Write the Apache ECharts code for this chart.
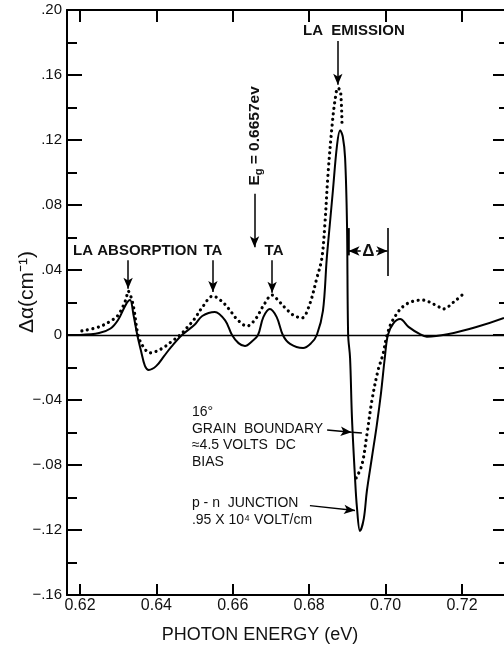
<!DOCTYPE html>
<html><head><meta charset="utf-8">
<script src="https://cdn.jsdelivr.net/npm/echarts@6/dist/echarts.min.js"></script>
<style>html,body{margin:0;padding:0;background:#fff}#c{width:504px;height:650px}</style>
</head><body><div id="c"></div>
<script>
// ---- data ----
const solidX = [0.620,0.625,0.628,0.630,0.632,0.6331,0.634,0.635,0.636,0.637,0.638,0.640,0.642,0.644,0.6467,0.650,0.652,0.6553,0.658,0.6598,0.6615,0.6632,0.665,0.6666,0.668,0.6697,0.6715,0.6731,0.675,0.6784,0.6805,0.682,0.6836,0.6846,0.6854,0.6862,0.6873,0.6881,0.6888,0.6894,0.6899,0.6902,0.6907,0.6912,0.6920,0.6925,0.6933,0.6943,0.6951,0.6964,0.6977,0.6988,0.6998,0.7006,0.702,0.7038,0.706,0.709,0.7108,0.731];
const solidY = [0,0.0012,0.004,0.0094,0.0187,0.0215,0.0125,0,-0.01,-0.019,-0.0215,-0.019,-0.013,-0.007,0,0.0063,0.0117,0.0142,0.009,0,-0.005,-0.0068,-0.004,0,0.011,0.016,0.011,0,-0.0055,-0.008,-0.005,0,0.0148,0.047,0.068,0.0886,0.117,0.126,0.122,0.109,0.068,0,-0.014,-0.051,-0.088,-0.106,-0.1206,-0.113,-0.096,-0.0757,-0.0554,-0.0357,-0.014,0,0.007,0.0098,0.005,0.0005,-0.001,0.0105];
// dotted curve: hidden under the solid line between 0.689 and 0.692 (gap = null)
const dottedX = [0.6205,0.625,0.628,0.630,0.632,0.6326,0.6339,0.6352,0.6365,0.6383,0.640,0.642,0.644,0.6462,0.648,0.650,0.652,0.6548,0.657,0.659,0.661,0.6637,0.666,0.668,0.6703,0.672,0.674,0.676,0.6781,0.680,0.682,0.6833,0.6841,0.6849,0.686,0.6868,0.6875,0.6882,0.6886,0.6905,0.6923,0.6938,0.6951,0.6964,0.6980,0.6993,0.7004,0.7019,0.7051,0.7095,0.7135,0.7150,0.7182,0.7203];
const dottedY = [0.0025,0.005,0.0086,0.0123,0.0217,0.027,0.0185,0,-0.007,-0.011,-0.010,-0.0075,-0.004,0,0.0045,0.01,0.017,0.024,0.021,0.016,0.01,0.0055,0.01,0.018,0.0246,0.021,0.016,0.012,0.0105,0.018,0.035,0.047,0.068,0.098,0.129,0.145,0.152,0.150,0.128,null,-0.088,-0.080,-0.0615,-0.0406,-0.022,-0.012,0,0.0092,0.0185,0.0215,0.018,0.016,0.021,0.0252];
const xTickValues = [0.62,0.64,0.66,0.68,0.70,0.72];
const xTickLabels = ['0.62','0.64','0.66','0.68','0.70','0.72'];
const yTickValues = [0.20,0.16,0.12,0.08,0.04,0,-0.04,-0.08,-0.12,-0.16];
const yTickLabels = ['.20','.16','.12','.08','.04','0','−.04','−.08','−.12','−.16'];
const xName = 'PHOTON ENERGY (eV)';
const yName = 'Δα(cm⁻¹)';

// ---- annotation arrows (data coordinates) ----
const arrows = [
  [0.6326,0.046,0.6326,0.0285,true],
  [0.6548,0.046,0.6548,0.0265,true],
  [0.6657,0.087,0.6657,0.054,true],
  [0.6703,0.046,0.6703,0.026,true],
  [0.6875,0.181,0.6875,0.154,true],
  [0.6935,0.0517,0.6903,0.0517,true],
  [0.6975,0.0517,0.7005,0.0517,true],
  [0.6847,-0.0585,0.6911,-0.0598,true],
  [0.6911,-0.0598,0.6938,-0.0603,false],
  [0.6802,-0.1050,0.6920,-0.1080,true]
];
const bars = [
  [0.6902,0.0658,0.6902,0.049,2.6],
  [0.7006,0.0658,0.7006,0.0363,1.6]
];
const notes = [
  {t:'LA ABSORPTION', x:0.6182, y:0.0517, a:'left'},
  {t:'TA', x:0.6548, y:0.0517, a:'center'},
  {t:'TA', x:0.6708, y:0.0517, a:'center'},
  {t:'LA  EMISSION', x:0.6917, y:0.187, a:'center'},
  {t:'Δ', x:0.6955, y:0.0517, a:'center', big:true},
  {t:'16°\nGRAIN  BOUNDARY\n≈4.5 VOLTS  DC\nBIAS', x:0.6493, y:-0.0425, a:'left', top:true, thin:true},
  {t:'p - n  JUNCTION\n.95 X 10⁴ VOLT/cm', x:0.6493, y:-0.0985, a:'left', top:true, thin:true}
];

const zip = (a,b)=>a.map((v,i)=>[v,b[i]===null?'-':b[i]]);
const FONT = '"Liberation Sans", Arial, sans-serif';
const chart = echarts.init(document.getElementById('c'), null, {renderer:'canvas'});

const markLineData = [{yAxis:0, symbol:'none', lineStyle:{width:1.4}}];
arrows.forEach(a=>{
  markLineData.push([{coord:[a[0],a[1]], symbol:'none'},{coord:[a[2],a[3]], symbol:a[4]?'arrow':'none', symbolSize:[7,11]}]);
});
bars.forEach(b=>{
  markLineData.push([{coord:[b[0],b[1]], symbol:'none', lineStyle:{width:b[4]}},{coord:[b[2],b[3]], symbol:'none'}]);
});

const option = {
  animation:false,
  backgroundColor:'#fff',
  grid:{left:67, right:0, top:10, bottom:55},
  xAxis:[{
    type:'value', position:'bottom', min:0.6166, max:0.7310,
    axisLine:{show:true, onZero:false, lineStyle:{color:'#000', width:2}},
    axisTick:{show:true, inside:true, length:11, customValues:xTickValues, lineStyle:{color:'#000', width:2}},
    axisLabel:{show:true, customValues:xTickValues, margin:3, color:'#111', fontSize:16, fontFamily:FONT,
      formatter:v=>{const i=xTickValues.findIndex(t=>Math.abs(t-v)<1e-6);return i>=0?xTickLabels[i]:'';}},
    splitLine:{show:false}
  },{
    type:'value', position:'top', min:0.6166, max:0.7310,
    axisLine:{show:true, onZero:false, lineStyle:{color:'#000', width:2}},
    axisTick:{show:true, inside:true, length:12, customValues:xTickValues, lineStyle:{color:'#000', width:2}},
    axisLabel:{show:false}, splitLine:{show:false}
  }],
  yAxis:[{
    type:'value', position:'left', min:-0.16, max:0.20, interval:0.04,
    axisLine:{show:true, onZero:false, lineStyle:{color:'#000', width:2}},
    axisTick:{show:true, inside:true, length:15, lineStyle:{color:'#000', width:2}},
    minorTick:{show:true, splitNumber:2, length:10, lineStyle:{color:'#000', width:2}},
    axisLabel:{show:true, margin:5, color:'#111', fontSize:15, fontFamily:FONT,
      formatter:v=>{const i=yTickValues.findIndex(t=>Math.abs(t-v)<1e-6);return i>=0?yTickLabels[i]:'';}},
    splitLine:{show:false}
  },{
    type:'value', position:'right', min:-0.16, max:0.20, interval:0.04,
    axisLine:{show:false},
    axisTick:{show:true, inside:true, length:11, lineStyle:{color:'#000', width:2}},
    minorTick:{show:true, splitNumber:2, length:5, lineStyle:{color:'#000', width:2}},
    axisLabel:{show:false}, splitLine:{show:false}
  }],
  series:[{
    name:'p-n junction', type:'line', xAxisIndex:0, yAxisIndex:0,
    data:zip(solidX,solidY), smooth:0.35, showSymbol:false, symbol:'none',
    lineStyle:{color:'#000', width:2}, z:3,
    markLine:{silent:true, animation:false, symbol:['none','none'], label:{show:false},
      lineStyle:{color:'#000', width:1.5, type:'solid'}, emphasis:{disabled:true}, data:markLineData}
  },{
    name:'grain boundary', type:'line', xAxisIndex:0, yAxisIndex:0,
    data:zip(dottedX,dottedY), smooth:0.35, showSymbol:false, symbol:'none', connectNulls:false,
    lineStyle:{color:'#000', width:3.2, type:[0.01,5.6], cap:'round'}, z:4
  }]
};
chart.setOption(option);

const P = (x,y)=>chart.convertToPixel({xAxisIndex:0, yAxisIndex:0},[x,y]);
const graphics = [];
notes.forEach(n=>{
  const p = P(n.x,n.y);
  graphics.push({type:'text', x:p[0], y:p[1], z:10, style:{
    text:n.t, fill:'#111', textAlign:n.a, textVerticalAlign:n.top?'top':'middle',
    font:(n.thin?'normal 14px ':(n.big?'bold 17px ':'bold 15px '))+FONT, lineHeight:16.6}});
});
// Eg label (rotated)
const pe = P(0.6658,0.1225);
graphics.push({type:'text', x:pe[0], y:pe[1], rotation:Math.PI/2, z:10, style:{
  text:'{a|E}{s|g}{a| = 0.6657ev}', textAlign:'center', textVerticalAlign:'middle',
  rich:{a:{fontSize:15.5, fontWeight:'bold', fontFamily:FONT, fill:'#111'},
        s:{fontSize:11, fontWeight:'bold', fontFamily:FONT, fill:'#111', padding:[9,0,0,0]}}}});
// axis names
graphics.push({type:'text', x:260, y:635, z:10, style:{text:xName, fill:'#111', textAlign:'center', textVerticalAlign:'middle', font:'normal 18px '+FONT}});
graphics.push({type:'text', x:27, y:292, rotation:Math.PI/2, z:10, style:{text:yName, fill:'#111', textAlign:'center', textVerticalAlign:'middle', font:'normal 21px '+FONT}});
chart.setOption({graphic:graphics});
</script></body></html>
